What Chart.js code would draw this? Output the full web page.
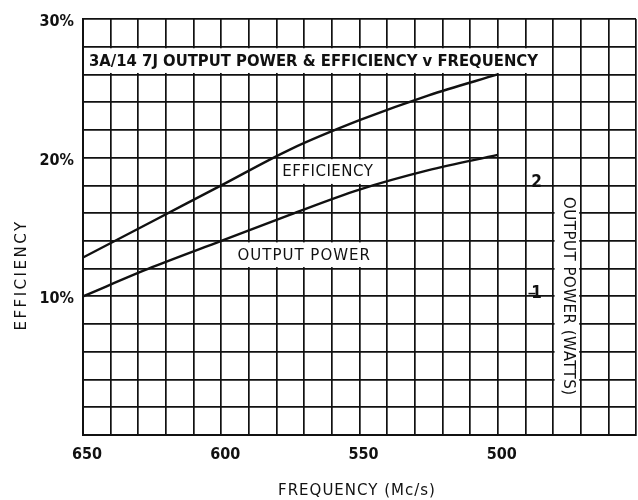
<!DOCTYPE html>
<html>
<head>
<meta charset="utf-8">
<script src="https://cdn.jsdelivr.net/npm/chart.js@4.4.1/dist/chart.umd.min.js"></script>
<style>
html, body { margin: 0; padding: 0; background: #fff; }
canvas { display: block; }
</style>
</head>
<body>
<canvas id="chart" width="638" height="500"></canvas>
<script>
// Valores (frecuencia en Mc/s, eficiencia en %)
const frequencies = [650, 625, 600, 575, 550, 525, 500];
const efficiency = [12.8, 15.4, 18.0, 20.6, 22.7, 24.5, 26.0];
const outputPower = [10.0, 12.1, 14.0, 15.9, 17.7, 19.1, 20.2];
const freqTickLabels = [650, 600, 550, 500];
const effTickLabels = [10, 20, 30];
const wattLabels = ['1', '2'];
const wattLevels = [10.2, 18.2];

const INK = '#111';
const FONT = '"DejaVu Sans", sans-serif';
const COND = '"DejaVu Sans Condensed", ' + FONT;

// Cajas blancas con texto dentro de la cuadrícula
const labelBoxes = [
    { text: '3A/14 7J OUTPUT POWER & EFFICIENCY v FREQUENCY', from: [650, 28], to: [480, 26],
      font: 'bold 16.5px ' + COND, align: 'left', dx: 6, spacing: '0px' },
    { text: 'EFFICIENCY', from: [580, 20], to: [540, 18], font: '15px ' + FONT, align: 'center', dx: -4, spacing: '0.5px' },
    { text: 'OUTPUT POWER', from: [600, 14], to: [540, 12], font: '15px ' + FONT, align: 'center', dx: 0, spacing: '1px' },
    { text: 'OUTPUT POWER (WATTS)', from: [480, 18], to: [470, 2], font: '15px ' + FONT, align: 'center', dx: 0, spacing: '0.5px', vertical: true }
];

const annotations = {
    id: 'annotations',
    beforeDatasetsDraw(chart) {
        const { ctx, scales: { x, y } } = chart;
        ctx.save();
        labelBoxes.forEach(b => {
            const x0 = x.getPixelForValue(b.from[0]);
            const x1 = x.getPixelForValue(b.to[0]);
            const y0 = y.getPixelForValue(b.from[1]);
            const y1 = y.getPixelForValue(b.to[1]);
            ctx.fillStyle = '#fff';
            ctx.fillRect(x0 + 1.5, y0 + 1.5, x1 - x0 - 3, y1 - y0 - 3);
            ctx.fillStyle = INK;
            ctx.font = b.font;
            ctx.letterSpacing = b.spacing;
            ctx.textBaseline = 'middle';
            if (b.vertical) {
                ctx.save();
                ctx.translate((x0 + x1) / 2 + 1, (y0 + y1) / 2);
                ctx.rotate(Math.PI / 2);
                ctx.textAlign = 'center';
                ctx.fillText(b.text, 0, 0);
                ctx.restore();
            } else if (b.align === 'left') {
                ctx.textAlign = 'left';
                ctx.fillText(b.text, x0 + b.dx, (y0 + y1) / 2 + 1);
            } else {
                ctx.textAlign = 'center';
                ctx.fillText(b.text, (x0 + x1) / 2 + b.dx, (y0 + y1) / 2 + 1);
            }
        });
        ctx.restore();
    },
    afterDraw(chart) {
        const { ctx, scales: { x, y } } = chart;
        ctx.save();
        ctx.fillStyle = INK;
        ctx.strokeStyle = INK;
        ctx.letterSpacing = '0px';

        // Escala de potencia (vatios) a la derecha
        ctx.font = 'bold 17px ' + COND;
        ctx.textAlign = 'center';
        ctx.textBaseline = 'middle';
        const wx = x.getPixelForValue(486);
        wattLabels.forEach((w, i) => {
            const py = y.getPixelForValue(wattLevels[i]);
            ctx.fillText(w, wx, py);
            if (w === '1') {
                ctx.lineWidth = 1.5;
                ctx.beginPath();
                ctx.moveTo(wx - 8, py);
                ctx.lineTo(wx - 1, py);
                ctx.stroke();
            }
        });

        // Títulos de los ejes
        ctx.font = '15px ' + FONT;
        ctx.letterSpacing = '2.5px';
        ctx.save();
        ctx.translate(22, 275);
        ctx.rotate(-Math.PI / 2);
        ctx.fillText('EFFICIENCY', 0, 0);
        ctx.restore();

        ctx.letterSpacing = '1px';
        ctx.fillText('FREQUENCY (Mc/s)', 357, 491);
        ctx.restore();
    }
};

new Chart(document.getElementById('chart'), {
    type: 'line',
    data: {
        datasets: [
            {
                label: 'Efficiency',
                data: frequencies.map((f, i) => ({ x: f, y: efficiency[i] })),
                borderColor: INK,
                borderWidth: 2.4,
                pointRadius: 0,
                tension: 0.4,
                cubicInterpolationMode: 'monotone'
            },
            {
                label: 'Output power',
                data: frequencies.map((f, i) => ({ x: f, y: outputPower[i] })),
                borderColor: INK,
                borderWidth: 2.4,
                pointRadius: 0,
                tension: 0.4,
                cubicInterpolationMode: 'monotone'
            }
        ]
    },
    options: {
        responsive: false,
        animation: false,
        layout: { padding: { top: 19, right: 2, left: 0, bottom: 0 } },
        plugins: {
            legend: { display: false },
            tooltip: { enabled: false }
        },
        scales: {
            x: {
                type: 'linear',
                reverse: true,
                min: 450,
                max: 650,
                afterFit: s => { s.height = 65; s.paddingLeft = 0; s.paddingRight = 0; },
                grid: { color: INK, lineWidth: 1.7, drawTicks: false },
                border: { color: INK, width: 2 },
                ticks: {
                    stepSize: 10,
                    padding: 10,
                    labelOffset: 4,
                    color: INK,
                    font: { family: COND, size: 16, weight: 'bold' },
                    maxRotation: 0,
                    autoSkip: false,
                    callback: v => freqTickLabels.includes(v) ? String(v) : ''
                }
            },
            y: {
                min: 0,
                max: 30,
                afterFit: s => { s.width = 83; },
                grid: { color: INK, lineWidth: 1.7, drawTicks: false },
                border: { color: INK, width: 2 },
                ticks: {
                    stepSize: 2,
                    padding: 9,
                    labelOffset: 3,
                    color: INK,
                    font: { family: COND, size: 16, weight: 'bold' },
                    autoSkip: false,
                    callback: v => effTickLabels.includes(v) ? v + '%' : ''
                }
            }
        }
    },
    plugins: [annotations]
});
</script>
</body>
</html>
